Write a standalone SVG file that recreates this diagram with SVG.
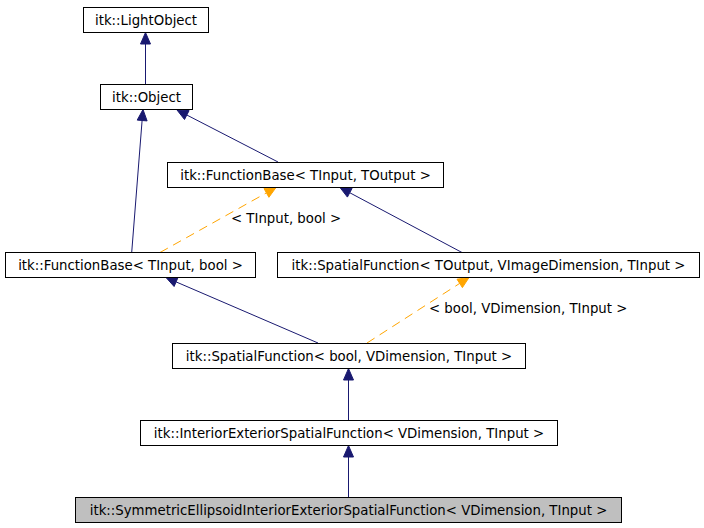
<svg xmlns="http://www.w3.org/2000/svg" width="704" height="528" viewBox="0 0 704 528">
<style>
.box{fill:#ffffff;stroke:#000000;stroke-width:1}
.cur{fill:#bfbfbf;stroke:#000000;stroke-width:1}
text{font-family:"DejaVu Sans","Liberation Sans",sans-serif;font-size:13.3px;fill:#000000}
.nodes text{text-anchor:middle}
.e{fill:none;stroke:#191970;stroke-width:1}
.ea{fill:#191970;stroke:#191970;stroke-width:1}
.t{fill:none;stroke:#ffa500;stroke-width:1;stroke-dasharray:9,6}
.ta{fill:#ffa500;stroke:#ffa500;stroke-width:1}
</style>
<rect width="704" height="528" fill="#ffffff"/>
<g id="connectors">
  <line class="e" x1="145.5" y1="84.5" x2="145.5" y2="44"/>
  <polygon class="ea" points="145.5,32.5 150.5,44 140.5,44"/>
  <line class="e" x1="278" y1="162" x2="186.8" y2="115"/>
  <polygon class="ea" points="177,110 189.1,110.6 184.5,119.5"/>
  <line class="e" x1="131.7" y1="252.5" x2="142.1" y2="120.5"/>
  <polygon class="ea" points="143,109.5 147.1,120.9 137.2,120.1"/>
  <line class="t" x1="160" y1="252.5" x2="266.4" y2="192.9"/>
  <polygon class="ta" points="276,187.5 268.9,197.3 264,188.5"/>
  <line class="e" x1="462" y1="252.5" x2="349.7" y2="192.7"/>
  <polygon class="ea" points="340,187.5 352.1,188.3 347.4,197.1"/>
  <line class="e" x1="318" y1="343" x2="176.1" y2="281.9"/>
  <polygon class="ea" points="166,277.5 178.1,277.3 174.1,286.5"/>
  <line class="t" x1="367" y1="343" x2="459.7" y2="283.4"/>
  <polygon class="ta" points="469,277.5 462.4,287.6 457,279.2"/>
  <line class="e" x1="348.5" y1="420.5" x2="348.5" y2="380"/>
  <polygon class="ea" points="348.5,368.5 353.5,380 343.5,380"/>
  <line class="e" x1="348.5" y1="497.5" x2="348.5" y2="457"/>
  <polygon class="ea" points="348.5,445.5 353.5,457 343.5,457"/>
  <text x="231" y="223">&lt; TInput, bool &gt;</text>
  <text x="429" y="313">&lt; bool, VDimension, TInput &gt;</text>
</g>
<g class="nodes">
  <g id="n_lightobject">
    <rect class="box" x="83.5" y="7.5" width="125" height="25"/>
    <text x="146" y="24.5">itk::LightObject</text>
  </g>
  <g id="n_object">
    <rect class="box" x="100.5" y="84.5" width="92" height="25"/>
    <text x="146.5" y="101.5">itk::Object</text>
  </g>
  <g id="n_fbtt">
    <rect class="box" x="167.5" y="162.5" width="276" height="25"/>
    <text x="305.5" y="179.5">itk::FunctionBase&lt; TInput, TOutput &gt;</text>
  </g>
  <g id="n_fbbool">
    <rect class="box" x="5.5" y="252.5" width="250" height="25"/>
    <text x="130.5" y="269.5">itk::FunctionBase&lt; TInput, bool &gt;</text>
  </g>
  <g id="n_sft">
    <rect class="box" x="277.5" y="252.5" width="422" height="25"/>
    <text x="488.5" y="269.5">itk::SpatialFunction&lt; TOutput, VImageDimension, TInput &gt;</text>
  </g>
  <g id="n_sfbool">
    <rect class="box" x="172.5" y="343.5" width="353" height="25"/>
    <text x="349" y="360.5">itk::SpatialFunction&lt; bool, VDimension, TInput &gt;</text>
  </g>
  <g id="n_ie">
    <rect class="box" x="140.5" y="420.5" width="417" height="25"/>
    <text x="349" y="437.5">itk::InteriorExteriorSpatialFunction&lt; VDimension, TInput &gt;</text>
  </g>
  <g id="n_sym">
    <rect class="cur" x="75.5" y="497.5" width="546" height="25"/>
    <text x="348.5" y="514.5">itk::SymmetricEllipsoidInteriorExteriorSpatialFunction&lt; VDimension, TInput &gt;</text>
  </g>
</g>
</svg>
